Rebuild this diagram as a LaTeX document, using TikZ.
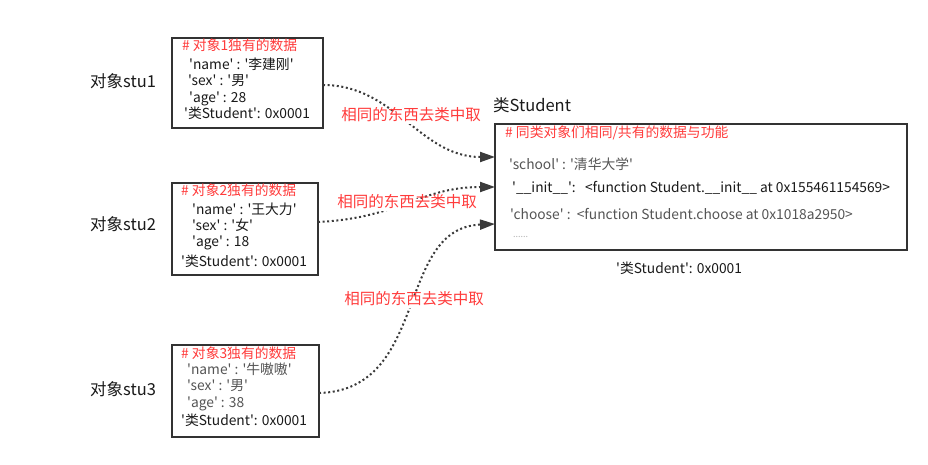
\documentclass[tikz,border=0pt]{standalone}
\usepackage{fontspec}
\setmainfont{Noto Sans CJK SC}[Ligatures=TeXOff]
\usetikzlibrary{arrows.meta}
\definecolor{lbred}{HTML}{FF3B3B}
\definecolor{boxline}{HTML}{333333}
\definecolor{txt}{HTML}{1A1A1A}
\definecolor{gtxt}{HTML}{555555}
\definecolor{dots}{HTML}{3A3A3A}
\begin{document}
\begin{tikzpicture}[x=1pt,y=-1pt,
  objbox/.style={draw=boxline,line width=1.6pt},
  bt/.style={anchor=west,inner sep=0pt,text height=0.78em,text depth=0.22em,font=\fontsize{13.8}{16}\selectfont,text=txt},
  hdr/.style={bt,text=lbred},
  side/.style={anchor=west,inner sep=0pt,text height=0.78em,text depth=0.22em,font=\fontsize{16.5}{19}\selectfont,text=txt},
  lbl/.style={inner sep=1pt,fill=white,text=lbred,font=\fontsize{15.5}{18}\selectfont,text height=0.78em,text depth=0.22em},
  conn/.style={draw=dots,line width=2pt,dash pattern=on 2pt off 2.6pt,-{Triangle[length=15pt,width=10pt,fill=dots]}}
]
\useasboundingbox[fill=white] (0,0) rectangle (928,465);

% boxes
\draw[objbox] (172,38) rectangle (323,128);
\coordinate (b1e) at (323,85);
\draw[objbox] (172,183) rectangle (318,275);
\coordinate (b2e) at (318,222);
\draw[objbox] (172,345) rectangle (319,437);
\coordinate (b3e) at (319,393);
\draw[objbox] (495,124) rectangle (907,250);
\coordinate (c1) at (495,157);
\coordinate (c2) at (495,187);
\coordinate (c3) at (495,224);

% side labels
\node[side] (s1) at (90,85) {对象stu1};
\node[side] (s2) at (90,228) {对象stu2};
\node[side] (s3) at (90,393) {对象stu3};
\node[side] (cls) at (493,109) {类Student};
\node[bt] (addr) at (616,271) {'类Student': 0x0001};

% box 1
\node[hdr] (h1) at (182,48) {\# 对象1独有的数据};
\node[bt] (n1) at (189,67) {'name' : '李建刚'};
\node[bt] (x1) at (188,83) {'sex' :  '男'};
\node[bt] (a1) at (189,100) {'age' : 28};
\node[bt] (k1) at (184,116) {'类Student': 0x0001};

% box 2
\node[hdr] (h2) at (181,193) {\# 对象2独有的数据};
\node[bt] (n2) at (192,212) {'name' : '王大力'};
\node[bt] (x2) at (192,228) {'sex' : '女'};
\node[bt] (a2) at (192,244) {'age' : 18};
\node[bt] (k2) at (181,264) {'类Student': 0x0001};

% box 3
\node[hdr] (h3) at (181,356) {\# 对象3独有的数据};
\node[bt,text=gtxt] (n3) at (187,372) {'name' : '牛嗷嗷'};
\node[bt,text=gtxt] (x3) at (187,388) {'sex' : '男'};
\node[bt,text=gtxt] (a3) at (187,405) {'age' : 38};
\node[bt] (k3) at (181,423) {'类Student': 0x0001};

% class box
\node[hdr] (hc) at (505,135) {\# 同类对象们相同/共有的数据与功能};
\node[bt,text=gtxt] (sc) at (509,167) {'school' : '清华大学'};
\node[bt] (it) at (512,190) {'\_\_init\_\_':~~~<function Student.\_\_init\_\_ at 0x155461154569>};
\node[bt,text=gtxt] (ch) at (510,217) {'choose' :~~<function Student.choose at 0x1018a2950>};
\node[bt,text=gray!60,font=\fontsize{9}{10}\selectfont] (dd) at (513,235) {......};

% connectors
\draw[conn] (b1e) .. controls (395,85) and (420,157) .. (c1);
\draw[conn] (b2e) .. controls (400,218) and (420,187) .. (c2);
\draw[conn] (b3e) .. controls (430,390) and (395,228) .. (c3);

% connector labels
\node[lbl] (l1) at (411,118) {相同的东西去类中取};
\node[lbl] (l2) at (407,205) {相同的东西去类中取};
\node[lbl] (l3) at (414,302) {相同的东西去类中取};
\end{tikzpicture}
\end{document}
